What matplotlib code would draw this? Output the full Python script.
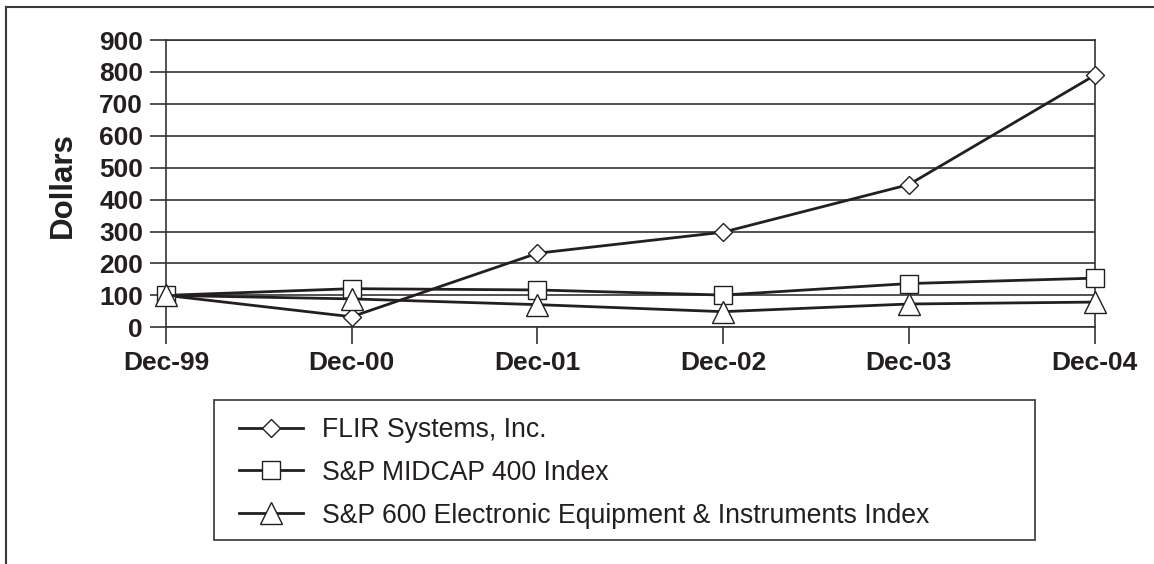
import numpy as np
import matplotlib
matplotlib.use('Agg')
import matplotlib.pyplot as plt
from matplotlib.lines import Line2D
from matplotlib.patches import Rectangle

# values (cumulative $100 investment)
periods = ['Dec-99', 'Dec-00', 'Dec-01', 'Dec-02', 'Dec-03', 'Dec-04']
flir = [100, 33, 232, 298, 447, 789]
midcap = [100, 121, 117, 101, 137, 154]
sp600 = [100, 89, 71, 49, 73, 79]
series_names = ['FLIR Systems, Inc.',
                'S&P MIDCAP 400 Index',
                'S&P 600 Electronic Equipment & Instruments Index']
y_ticks = list(range(0, 1000, 100))

plt.rcParams['font.family'] = ['Liberation Sans', 'DejaVu Sans']
ink = '#231f20'
rule = '#333333'

W, H = 1154, 564
fig = plt.figure(figsize=(W / 100, H / 100), dpi=100)
ax = fig.add_axes([166 / W, 1 - 327.3 / H, (1094.5 - 166) / W, (327.3 - 40) / H])

x = np.arange(len(periods))
markers = [('D', 9.5), ('s', 13), ('^', 16)]
for vals, name, (m, ms) in zip([flir, midcap, sp600], series_names, markers):
    ax.plot(x, vals, color=ink, lw=2, marker=m, ms=ms, mfc='white', mec=ink,
            mew=1, label=name, clip_on=False, zorder=3)

ax.set_xlim(0, len(periods) - 1)
ax.set_ylim(0, 900)
ax.set_xticks(x, periods)
ax.set_yticks(y_ticks)
ax.yaxis.grid(True, color=rule, lw=1.2)
ax.set_axisbelow(True)
for s in ax.spines.values():
    s.set_color(rule)
    s.set_linewidth(1.2)
ax.tick_params(axis='y', length=11.5, width=1.2, color=rule, pad=5, labelsize=19, labelcolor=ink)
ax.tick_params(axis='x', length=12, width=1.2, color=rule, pad=5, labelsize=19, labelcolor=ink)
for lbl in ax.get_xticklabels() + ax.get_yticklabels():
    lbl.set_fontweight('bold')

fig.text(63 / W, 1 - 185.5 / H, 'Dollars', rotation=90, ha='center', va='center',
         fontsize=22.5, fontweight='bold', color=ink)

h, l = ax.get_legend_handles_labels()
fig.legend(h, l, loc='upper left', bbox_to_anchor=(239 / W, 1 - 417 / H),
           frameon=False, borderpad=0, borderaxespad=0, fontsize=19.2,
           handlelength=2.4, handletextpad=0.7, labelspacing=0.63,
           labelcolor=ink)
fig.add_artist(Rectangle((214 / W, 1 - 540 / H), 821 / W, 140 / H,
                         transform=fig.transFigure, fill=False, ec='#444444', lw=1.3))

# page frame (left and top edges)
fig.add_artist(Line2D([6 / W, 6 / W], [0, 1 - 7 / H], transform=fig.transFigure, color='#3a3a3a', lw=1.5))
fig.add_artist(Line2D([6 / W, 1], [1 - 7 / H, 1 - 7 / H], transform=fig.transFigure, color='#3a3a3a', lw=1.5))

fig.savefig('out.png', dpi=100)
